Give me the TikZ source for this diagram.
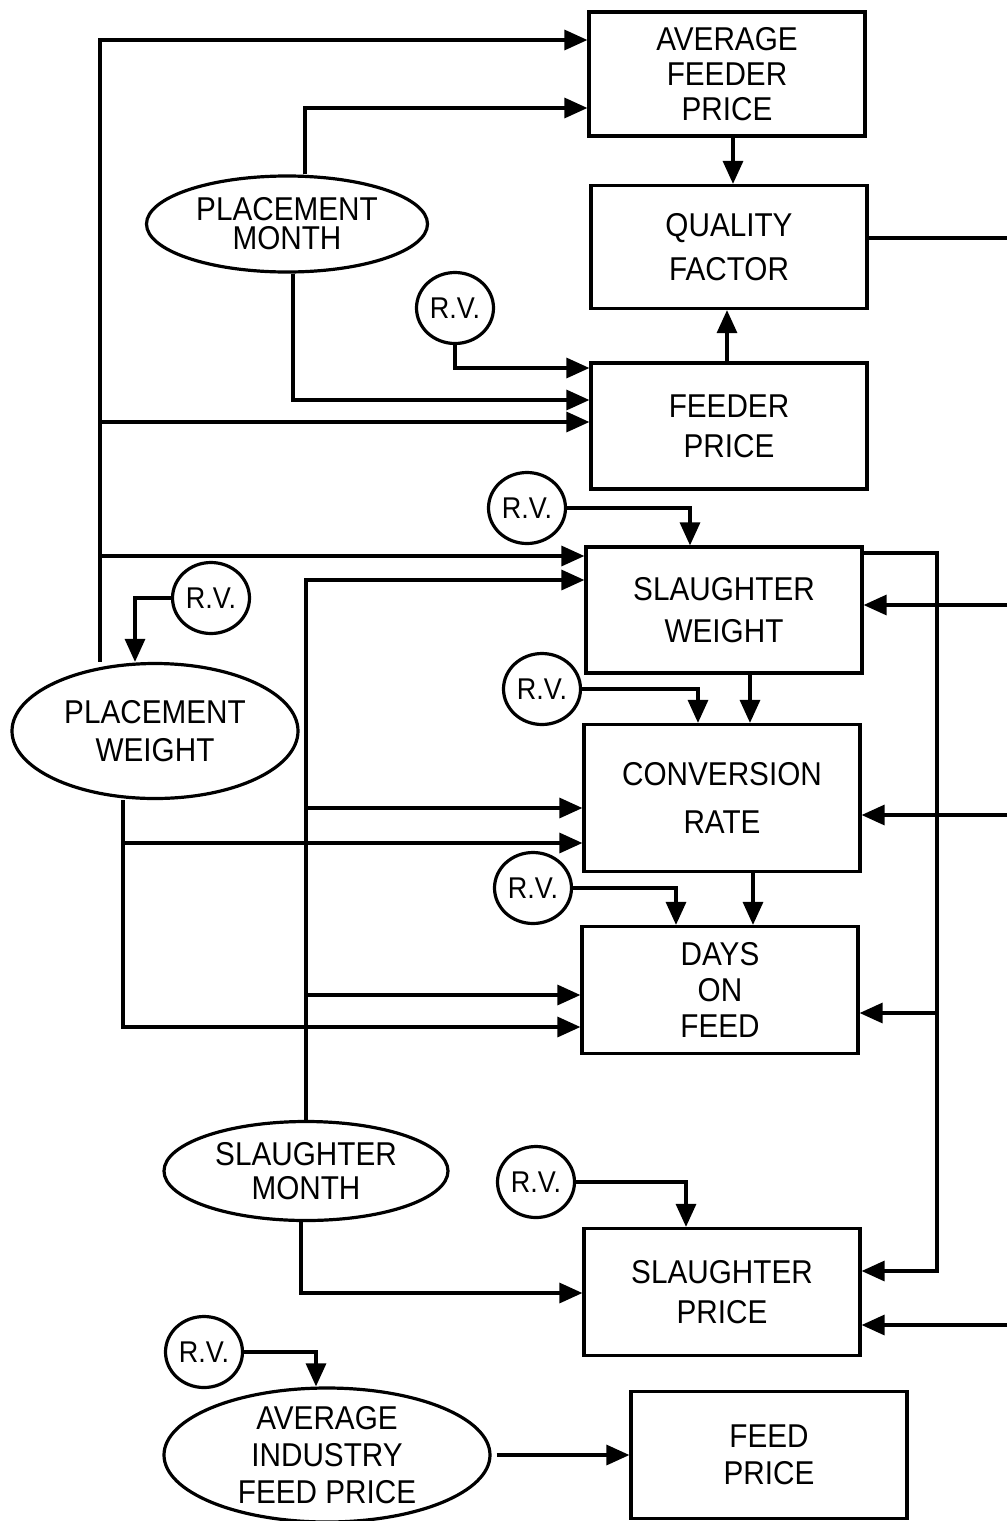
\documentclass[tikz,border=0pt]{standalone}
\usepackage{fontspec}
\setmainfont{Liberation Sans}[FakeStretch=0.9]
\usetikzlibrary{arrows.meta,shapes.geometric,calc}
\begin{document}
\begin{tikzpicture}[x=1pt,y=-1pt,
  lw/.style={line width=3.2pt},
  arr/.style={lw, -{Triangle[length=23pt,width=20pt]}},
  lh/.style={font=\fontsize{33}{#1}\selectfont},
  boxn/.style={draw, lw, rectangle, inner sep=0pt, align=center, minimum width=276pt},
  ell/.style={draw, lw, ellipse, inner sep=0pt, align=center},
  rvn/.style={draw, lw, ellipse, inner sep=0pt, minimum width=77pt, minimum height=71pt, font=\fontsize{30}{34}\selectfont}
]
\useasboundingbox (0,0) rectangle (1007,1521);

% boxes
\node[boxn, minimum height=124pt, lh=35] (afp) at (727,74) {AVERAGE\\FEEDER\\PRICE};
\node[boxn, minimum height=123pt, lh=44] (qf) at (729,247) {QUALITY\\FACTOR};
\node[boxn, minimum height=126pt, lh=40] (fp) at (729,426) {FEEDER\\PRICE};
\node[boxn, minimum height=126pt, lh=42] (sw) at (724,610) {SLAUGHTER\\WEIGHT};
\node[boxn, minimum height=147pt, lh=48] (cr) at (722,798) {CONVERSION\\RATE};
\node[boxn, minimum height=127pt, lh=36] (dof) at (720,990) {DAYS\\ON\\FEED};
\node[boxn, minimum height=127pt, lh=40] (sp) at (722,1292) {SLAUGHTER\\PRICE};
\node[boxn, minimum height=127pt, lh=37] (feedp) at (769,1455) {FEED\\PRICE};

% ellipses
\node[ell, minimum width=281pt, minimum height=96pt, lh=29] (pm) at (287,224) {PLACEMENT\\MONTH};
\node[ell, minimum width=286pt, minimum height=135pt, lh=38] (pw) at (155,731) {PLACEMENT\\WEIGHT};
\node[ell, minimum width=284pt, minimum height=99pt, lh=34] (sm) at (306,1171) {SLAUGHTER\\MONTH};
\node[ell, minimum width=326pt, minimum height=134pt] (aifp) at (327,1455) {};
\node[lh=37, align=center, inner sep=0pt] (aifptext) at (aifp.center) {AVERAGE\\INDUSTRY\\FEED PRICE};

% random variables
\node[rvn] (rv1) at (455,308) {R.V.};
\node[rvn] (rv2) at (527,508) {R.V.};
\node[rvn] (rv3) at (211,598) {R.V.};
\node[rvn] (rv4) at (542,689) {R.V.};
\node[rvn] (rv5) at (533,888) {R.V.};
\node[rvn] (rv6) at (536,1182) {R.V.};
\node[rvn] (rv7) at (204,1352) {R.V.};

% placement weight connectors
\coordinate (pwl) at ([xshift=-55pt]pw.north);
\draw[arr] (pwl) |- ($(afp.west)+(0,-34)$);
\draw[arr] (pwl |- 0,422) -- (fp.west |- 0,422);
\draw[arr] (pwl |- 0,556) -- (sw.west |- 0,556);
\coordinate (pwb) at ([xshift=-32pt]pw.south);
\draw[arr] (pwb) |- (dof.west |- 0,1027);
\draw[arr] (pwb |- 0,843) -- (cr.west |- 0,843);

% placement month
\draw[arr] ([xshift=18pt]pm.north) |- (afp.west |- 0,108);
\draw[arr] ([xshift=6pt]pm.south) |- (fp.west |- 0,400);
\draw[arr] (rv1.south) |- (fp.west |- 0,368);

% top chain
\draw[arr] (afp.south -| 733,0) -- (qf.north -| 733,0);
\draw[arr] (fp.north -| 727,0) -- (qf.south -| 727,0);
\coordinate (qout) at (1007,238);
\draw[lw] (qf.east |- qout) -- (qout);

% inputs from the right
\coordinate (sin) at (1007,605);
\draw[arr] (sin) -- (sw.east |- sin);
\coordinate (cin) at (1007,815);
\draw[arr] (cin) -- (cr.east |- cin);
\coordinate (pin) at (1007,1325);
\draw[arr] (pin) -- (sp.east |- pin);

% slaughter weight
\draw[arr] (rv2.east) -| (sw.north -| 690,0);
\coordinate (swr) at (937,553);
\draw[arr] (sw.east |- swr) -- (swr) |- (sp.east |- 0,1271);
\draw[arr] (swr |- 0,1013) -- (dof.east |- 0,1013);
\draw[arr] (sw.south -| 750,0) -- (cr.north -| 750,0);
\draw[arr] (rv4.east) -| (cr.north -| 698,0);

% slaughter month
\draw[arr] (sm.north) |- (sw.west |- 0,580);
\draw[arr] (sm.north |- 0,808) -- (cr.west |- 0,808);
\draw[arr] (sm.north |- 0,995) -- (dof.west |- 0,995);
\draw[arr] ([xshift=-5pt]sm.south) |- (sp.west |- 0,1293);

% conversion -> days
\draw[arr] (cr.south -| 753,0) -- (dof.north -| 753,0);
\draw[arr] (rv5.east) -| (dof.north -| 676,0);
\draw[arr] (rv6.east) -| (sp.north -| 686,0);
\draw[arr] (rv3.west) -| (pw.north -| 135,0);
\draw[arr] (rv7.east) -| (aifp.north -| 316,0);
\draw[arr] ([xshift=5pt]aifp.east) -- (feedp.west);
\end{tikzpicture}
\end{document}
